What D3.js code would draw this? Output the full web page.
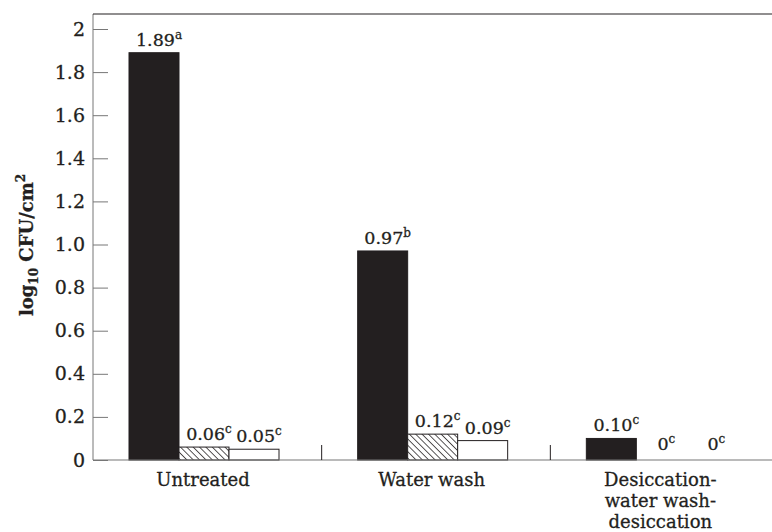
<!DOCTYPE html>
<html>
<head>
<meta charset="utf-8">
<script src="https://cdn.jsdelivr.net/npm/d3@7/dist/d3.min.js"></script>
<style>
  body { margin: 0; background: #fff; }
  text { font-family: "DejaVu Serif", serif; fill: #231f20; stroke: #231f20; stroke-width: 0.3; }
</style>
</head>
<body>
<div id="chart"></div>
<script>
const width = 772;
const height = 532;

// dados
const categories = ["Untreated", "Water wash", "Desiccation-water wash-desiccation"];
const categoryLines = [["Untreated"], ["Water wash"], ["Desiccation-", "water wash-", "desiccation"]];
const series = ["black", "hatched", "white"];
const blackValues = [1.89, 0.97, 0.10];
const hatchedValues = [0.06, 0.12, 0];
const whiteValues = [0.05, 0.09, 0];
const blackLetters = ["a", "b", "c"];
const hatchedLetters = ["c", "c", "c"];
const whiteLetters = ["c", "c", "c"];
const yTicks = [0, 0.2, 0.4, 0.6, 0.8, 1.0, 1.2, 1.4, 1.6, 1.8, 2];

const padLeft = 93, padTop = 14, padBottom = 460;

const svg = d3.select("#chart").append("svg")
  .attr("width", width)
  .attr("height", height);

const defs = svg.append("defs");
const pat = defs.append("pattern")
  .attr("id", "hatch")
  .attr("patternUnits", "userSpaceOnUse")
  .attr("width", 4.5)
  .attr("height", 4.5)
  .attr("patternTransform", "rotate(-45)");
pat.append("rect").attr("width", 4.5).attr("height", 4.5).attr("fill", "#fff");
pat.append("line")
  .attr("x1", 0).attr("y1", 0).attr("x2", 0).attr("y2", 4.5)
  .attr("stroke", "#231f20").attr("stroke-width", 1.5);

const x = d3.scaleBand().domain(categories).range([padLeft, 779]).padding(0);
const xs = d3.scaleBand().domain(series).range([36, 186]).padding(0);
const y = d3.scaleLinear().domain([0, 2]).range([padBottom, 29]);

// tabela
const rows = [];
categories.forEach((c, i) => {
  rows.push({ cat: c, s: "black", v: blackValues[i], l: blackLetters[i] });
  rows.push({ cat: c, s: "hatched", v: hatchedValues[i], l: hatchedLetters[i] });
  rows.push({ cat: c, s: "white", v: whiteValues[i], l: whiteLetters[i] });
});

const fills = { black: "#231f20", hatched: "url(#hatch)", white: "#fff" };

// barras
svg.selectAll(".bar")
  .data(rows.filter((d) => d.v > 0))
  .enter()
  .append("rect")
  .attr("class", "bar")
  .attr("x", (d) => x(d.cat) + xs(d.s))
  .attr("y", (d) => y(d.v))
  .attr("width", xs.bandwidth())
  .attr("height", (d) => y(0) - y(d.v))
  .attr("fill", (d) => fills[d.s])
  .attr("stroke", "#231f20")
  .attr("stroke-width", 1);

// rótulos
const lab = svg.selectAll(".lab")
  .data(rows)
  .enter()
  .append("text")
  .attr("class", "lab")
  .attr("x", (d) => x(d.cat) + xs(d.s) + xs.bandwidth() / 2 + 5)
  .attr("y", (d) => (d.v > 0 ? y(d.v) - 7 : y(0) - 10))
  .attr("text-anchor", "middle")
  .attr("font-size", 17.5);
lab.append("tspan").text((d) => (d.v === 0 ? "0" : d.v.toFixed(2)));
lab.append("tspan")
  .attr("dy", -7)
  .attr("font-size", 12)
  .text((d) => d.l);

// eixo y
const yAxis = svg.append("g")
  .attr("transform", `translate(${padLeft},0)`)
  .call(d3.axisLeft(y)
    .tickValues(yTicks)
    .tickSizeInner(-15)
    .tickSizeOuter(0)
    .tickPadding(8)
    .tickFormat((d) => (d === 0 || d === 2 ? String(d) : d.toFixed(1))));
yAxis.select(".domain").attr("stroke", "#777").attr("d", `M0,${padBottom}V${padTop}`);
yAxis.selectAll(".tick line").attr("stroke", "#777");
yAxis.selectAll(".tick text")
  .attr("font-size", 19)
  .attr("font-family", "DejaVu Serif")
  .attr("fill", "#231f20");

// linha de cima e eixo x
svg.append("line")
  .attr("x1", padLeft).attr("x2", width)
  .attr("y1", padTop).attr("y2", padTop)
  .attr("stroke", "#231f20").attr("stroke-width", 1.2);
svg.append("line")
  .attr("x1", padLeft).attr("x2", width)
  .attr("y1", padBottom).attr("y2", padBottom)
  .attr("stroke", "#777").attr("stroke-width", 1.2);

// separadores
svg.selectAll(".sep")
  .data(categories.slice(1))
  .enter()
  .append("line")
  .attr("x1", (d) => x(d)).attr("x2", (d) => x(d))
  .attr("y1", padBottom).attr("y2", padBottom - 15)
  .attr("stroke", "#231f20");

// nomes das categorias
const catText = svg.selectAll(".cat")
  .data(categories)
  .enter()
  .append("text")
  .attr("class", "cat")
  .attr("text-anchor", "middle")
  .attr("font-size", 18)
  .attr("y", 486);
catText.selectAll("tspan")
  .data((d, i) => categoryLines[i].map((t) => ({ t, c: d })))
  .enter()
  .append("tspan")
  .attr("x", (d) => x(d.c) + 110)
  .attr("dy", (d, i) => (i === 0 ? 0 : 21))
  .text((d) => d.t);

// título do eixo y
const yt = svg.append("text")
  .attr("transform", "translate(33,245) rotate(-90)")
  .attr("text-anchor", "middle")
  .attr("font-weight", "bold")
  .attr("font-size", 18);
yt.append("tspan").text("log");
yt.append("tspan").attr("font-size", 12).attr("dy", 5).text("10");
yt.append("tspan").attr("dy", -5).text(" CFU/cm");
yt.append("tspan").attr("font-size", 12).attr("dy", -8).text("2");
</script>
</body>
</html>
